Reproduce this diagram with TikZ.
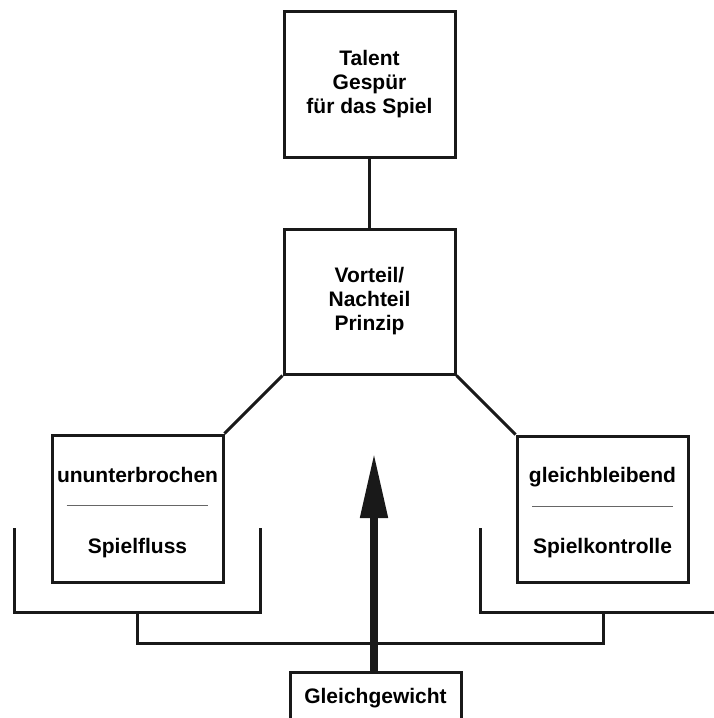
\documentclass[tikz,border=0pt]{standalone}
\usepackage{fontspec}
\setmainfont{Liberation Sans}
\usepackage{xcolor}
\usetikzlibrary{arrows.meta,positioning,calc}

\begin{document}
\begin{tikzpicture}[x=1pt,y=-1pt,
    box/.style={draw=black!90, line width=3pt, minimum width=171pt, align=center,
        font=\fontsize{21}{24}\selectfont\bfseries},
    bracket/.style={draw=black!90, line width=3pt}]
    \path[use as bounding box, clip] (0,0) rectangle (714,718);
    \node[box, minimum height=146pt] (talent) at (369.5,84) {Talent\\Gespür\\für das Spiel};
    \node[box, minimum height=145pt] (prinzip) at (369.5,301.5) {Vorteil/\\Nachteil\\Prinzip};
    \node[box, minimum height=147pt] (fluss) at (137.5,508.5)
        {\rule{0pt}{23pt}ununterbrochen\\{\color{black!60}\rule{142pt}{0.9pt}}\\[23pt]Spielfluss};
    \node[box, minimum height=146pt] (kontrolle) at (602.5,509)
        {\rule{0pt}{23pt}gleichbleibend\\{\color{black!60}\rule{141pt}{0.9pt}}\\[23pt]Spielkontrolle};
    \node[box, minimum height=52pt] (gleich) at (375.5,698) {Gleichgewicht};
    \draw[bracket] (talent) -- (prinzip);
    \draw[bracket] (prinzip.south west) -- (fluss.north east);
    \draw[bracket] (prinzip.south east) -- (kontrolle.north west);
    % Klammern unten
    \draw[bracket] (14,528) -- (14,612) -- (260,612) -- (260,528);
    \draw[bracket] (480,528) -- (480,612) -- (720,612);
    \draw[bracket] (137,612) -- (137,643) -- (603,643) -- (603,612);
    \coordinate (tip) at (374,453);
    \draw[line width=8pt, draw=black!90, -{Triangle[length=65pt,width=26pt]}]
        (gleich.north -| tip) -- (tip);
\end{tikzpicture}
\end{document}
